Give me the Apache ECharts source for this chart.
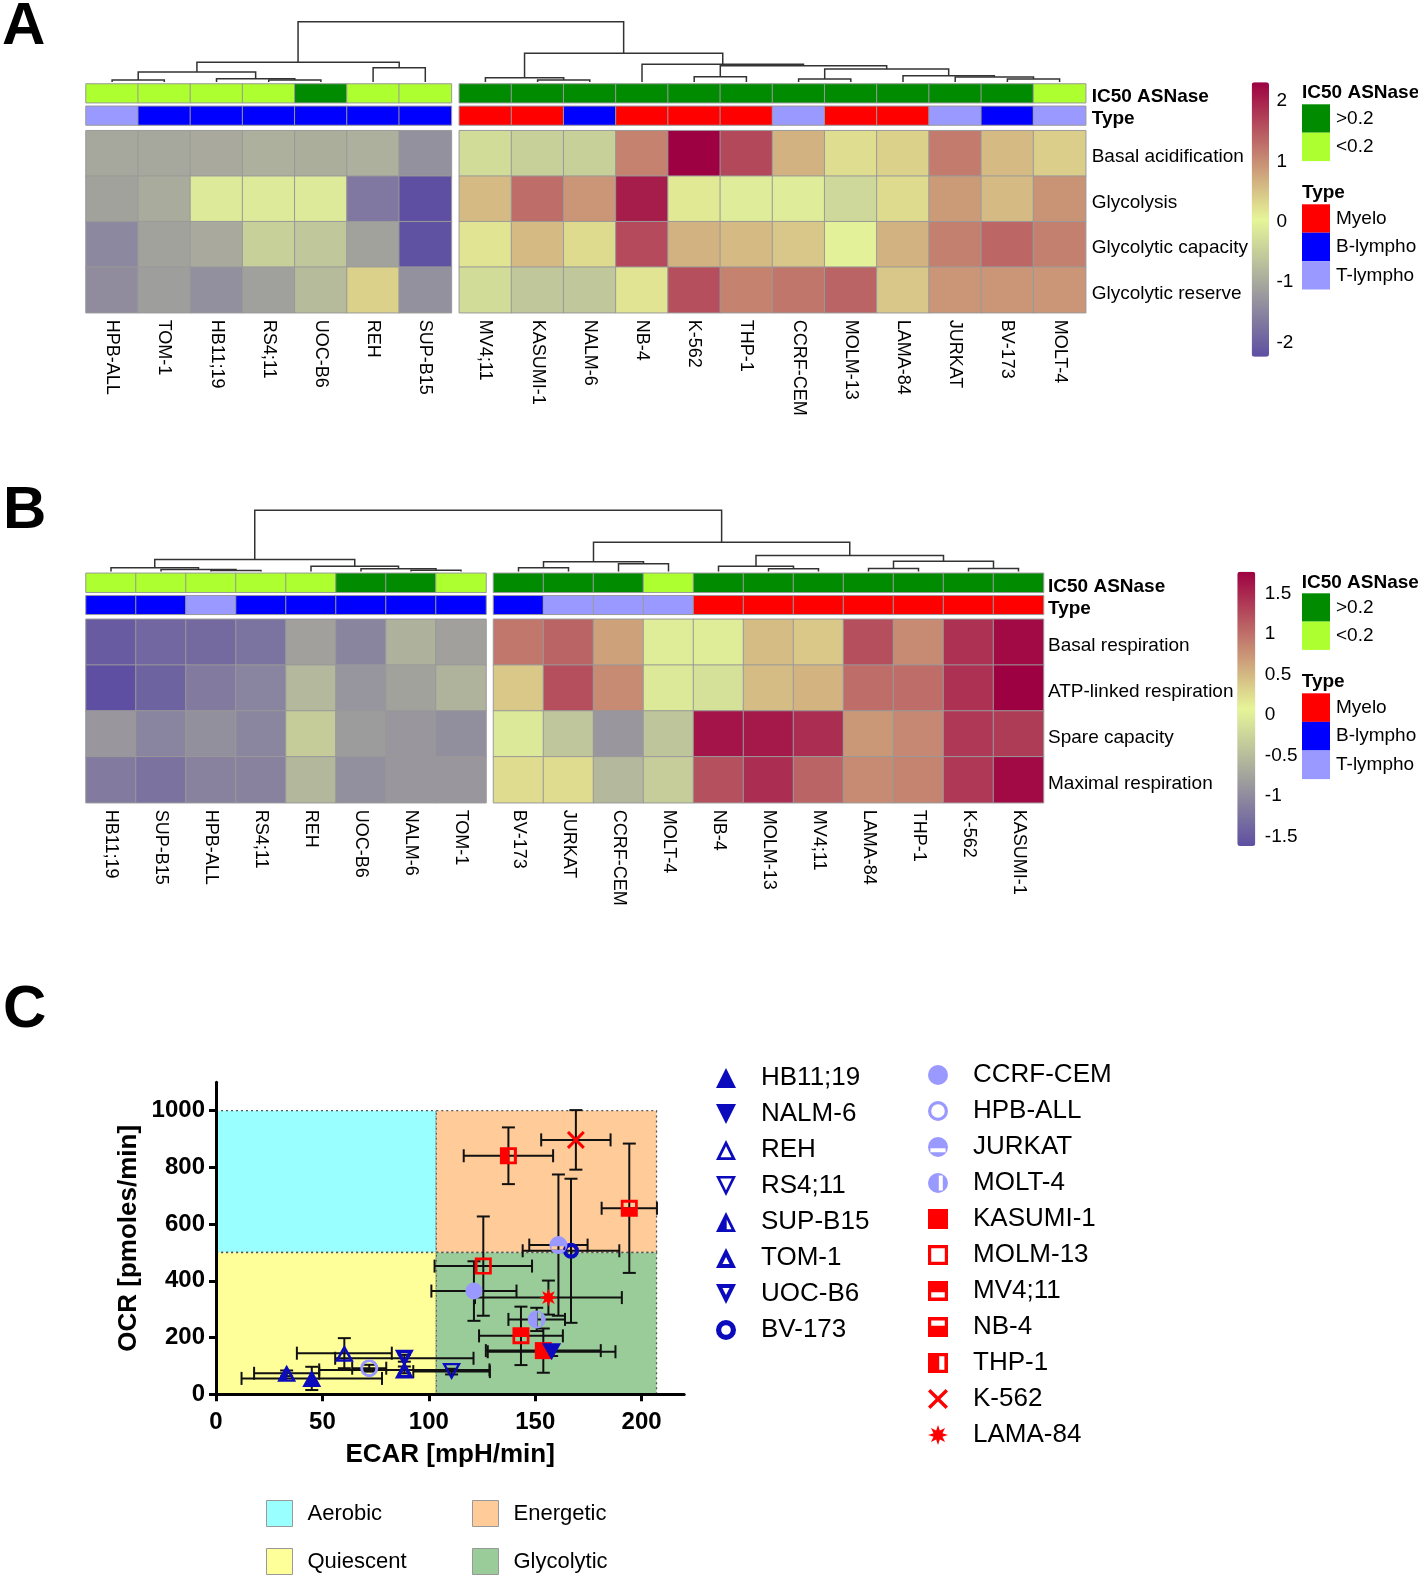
<!DOCTYPE html>
<html><head><meta charset="utf-8">
<script src="https://cdn.jsdelivr.net/npm/echarts@6.0.0/dist/echarts.min.js"></script>
<style>html,body{margin:0;padding:0;background:#fff;}#chart{width:1418px;height:1575px;}</style>
</head><body><div id="chart"></div>
<script>
// ================= DATA =================
// Panel A (glycolysis heatmap), columns in dendrogram order
const colsA = ['HPB-ALL','TOM-1','HB11;19','RS4;11','UOC-B6','REH','SUP-B15','MV4;11','KASUMI-1','NALM-6','NB-4','K-562','THP-1','CCRF-CEM','MOLM-13','LAMA-84','JURKAT','BV-173','MOLT-4'];
const splitA = 7;
const rowsA = ['Basal acidification','Glycolysis','Glycolytic capacity','Glycolytic reserve'];
const ic50A = ['<0.2','<0.2','<0.2','<0.2','>0.2','<0.2','<0.2','>0.2','>0.2','>0.2','>0.2','>0.2','>0.2','>0.2','>0.2','>0.2','>0.2','>0.2','<0.2'];
const typeA = ['T-lympho','B-lympho','B-lympho','B-lympho','B-lympho','B-lympho','B-lympho','Myelo','Myelo','B-lympho','Myelo','Myelo','Myelo','T-lympho','Myelo','Myelo','T-lympho','B-lympho','T-lympho'];
const aBasalAcid   = [-1.02,-1.02,-0.99,-0.91,-0.93,-0.91,-1.33, -0.30,-0.47,-0.47,1.11,2.31,1.65,0.66,0.26,0.37,1.17,0.58,0.40];
const aGlycolysis  = [-1.10,-0.98,-0.11,-0.11,-0.11,-1.67,-2.23, 0.58,1.30,0.92,2.06,0.15,-0.08,-0.08,-0.36,0.29,0.88,0.58,0.95];
const aGlyCapacity = [-1.46,-1.10,-0.99,-0.47,-0.59,-1.10,-2.20, 0.20,0.58,0.29,1.63,0.66,0.58,0.47,-0.02,0.66,1.13,1.36,1.13];
const aGlyReserve  = [-1.40,-1.16,-1.36,-1.13,-0.76,0.37,-1.33, -0.30,-0.59,-0.59,0.20,1.59,1.11,1.22,1.39,0.47,0.92,0.92,0.92];
const scaleA = [-2.235, 2.31];
const ticksA = [-2,-1,0,1,2];
// dendrogram merges: [childA, childB, height]  (L = leaf index, M = merge index)
const mergesA = [
  ['L0','L1',2],['L3','L4',2],['L2','M1',3.3],['M0','M2',10],['L5','L6',14.3],['M3','M4',19.7],
  ['L8','L9',2],['L7','M6',4.3],['L11','L12',5.3],['L13','L14',3],['L17','L18',3],['L16','M10',5],
  ['L15','M11',6.3],['M9','M12',13],['M8','M13',16.3],['L10','M14',17.7],['M7','M15',28.7],['M5','M16',60.3]
];

// Panel B (respiration heatmap)
const colsB = ['HB11;19','SUP-B15','HPB-ALL','RS4;11','REH','UOC-B6','NALM-6','TOM-1','BV-173','JURKAT','CCRF-CEM','MOLT-4','NB-4','MOLM-13','MV4;11','LAMA-84','THP-1','K-562','KASUMI-1'];
const splitB = 8;
const rowsB = ['Basal respiration','ATP-linked respiration','Spare capacity','Maximal respiration'];
const ic50B = ['<0.2','<0.2','<0.2','<0.2','<0.2','>0.2','>0.2','<0.2','>0.2','>0.2','>0.2','<0.2','>0.2','>0.2','>0.2','>0.2','>0.2','>0.2','>0.2'];
const typeB = ['B-lympho','B-lympho','T-lympho','B-lympho','B-lympho','B-lympho','B-lympho','B-lympho','B-lympho','T-lympho','T-lympho','T-lympho','Myelo','Myelo','Myelo','Myelo','Myelo','Myelo','Myelo'];
const bBasalResp = [-1.50,-1.37,-1.34,-1.24,-0.79,-1.07,-0.62,-0.79, 0.95,1.08,0.66,-0.01,-0.01,0.47,0.39,1.23,0.81,1.44,1.71];
const bATPLinked = [-1.62,-1.42,-1.17,-1.08,-0.55,-0.91,-0.77,-0.60, 0.39,1.23,0.81,-0.05,-0.14,0.47,0.53,1.02,1.02,1.44,1.77];
const bSpareCap  = [-0.89,-1.08,-0.96,-1.06,-0.34,-0.83,-0.89,-0.98, -0.05,-0.40,-0.89,-0.42,1.64,1.61,1.46,0.73,0.83,1.39,1.36];
const bMaxResp   = [-1.17,-1.26,-1.10,-1.10,-0.56,-0.97,-0.89,-0.89, 0.25,0.25,-0.55,-0.33,1.22,1.46,1.08,0.81,0.86,1.39,1.71];
const scaleB = [-1.62, 1.77];
const ticksB = [-1.5,-1,-0.5,0,0.5,1,1.5];
const mergesB = [
  ['L2','L3',1],['L1','M0',2],['L0','M1',3.7],['L6','L7',1.3],['L5','M3',2.7],['L4','M4',5.3],['M2','M5',12],
  ['L8','L9',3.7],['L10','L11',7.7],['M7','M8',9.7],['L13','L14',2.7],['L12','M10',5.3],['L15','L16',3],
  ['L17','L18',3],['M12','M13',10.3],['M11','M14',16],['M9','M15',29.3],['M6','M16',61.3]
];

// Panel C (energy map scatter)
const cellLines = ['HB11;19','NALM-6','REH','RS4;11','SUP-B15','TOM-1','UOC-B6','BV-173','CCRF-CEM','HPB-ALL','JURKAT','MOLT-4','KASUMI-1','MOLM-13','MV4;11','NB-4','THP-1','K-562','LAMA-84'];
const ecar    = [45, 157.7, 60.3, 110.7, 33.2, 88.5, 88.5, 166.8, 121.2, 72.0, 160.9, 150.7, 153.8, 125.6, 143.3, 194.2, 137.4, 169.1, 156.2];
const ocr     = [56, 150, 145, 80, 74, 86, 127, 506, 364, 92, 526, 264, 154, 452, 206, 656, 841, 897, 341];
const ecarErr = [33, 30, 22.3, 18, 15.3, 40, 32.5, 22.7, 20, 8, 13.7, 13.3, 27, 22.9, 19.7, 13, 21, 16.3, 34.5];
const ocrErr  = [41, 15, 53, 10, 10, 12, 12, 254, 105, 12, 249, 41, 78, 175, 103, 228, 100, 105, 60];
const xTicksC = [0,50,100,150,200];
const yTicksC = [0,200,400,600,800,1000];
const regionNames = ['Aerobic','Energetic','Quiescent','Glycolytic'];
const regionEcar  = [[0,103.5],[103.5,207],[0,103.5],[103.5,207]];
const regionOcr   = [[500,1000],[500,1000],[0,500],[0,500]];

// ================= STYLE =================
const FONT = '"Liberation Sans", Arial, Helvetica, sans-serif';
const PAL = ['#5e4fa2','#e6f598','#9e0142'];
const IC50_COL = {'>0.2':'#008B00','<0.2':'#ADFF2F'};
const TYPE_COL = {'Myelo':'#FF0000','B-lympho':'#0000FF','T-lympho':'#9999FF'};
const IC50_CODE = {'>0.2':0,'<0.2':1};
const TYPE_CODE = {'Myelo':0,'B-lympho':1,'T-lympho':2};
const REGION_COL = {'Aerobic':'#99FFFF','Energetic':'#FFCC99','Quiescent':'#FFFF99','Glycolytic':'#99CC99'};
const GROUP_COL = {'B-lympho':'#0b0bbd','T-lympho':'#9999ff','Myelo':'#ff0000'};

const TRI_UP = 'M50 0 L100 100 L0 100 Z';
const TRI_DOWN = 'M0 0 L100 0 L50 100 Z';
const CIRC = 'M50 0 A50 50 0 1 1 50 100 A50 50 0 1 1 50 0 Z';
const SQ = 'M0 0 L100 0 L100 100 L0 100 Z';
function ringHole(ri){ return 'M50 '+(50-ri)+' A'+ri+' '+ri+' 0 1 0 50 '+(50+ri)+' A'+ri+' '+ri+' 0 1 0 50 '+(50-ri)+' Z'; }
function starPath(n, rIn){ const p=[]; for(let k=0;k<n*2;k++){ const a=Math.PI*k/n-Math.PI/2; const r=k%2===0?50:rIn; p.push((50+r*Math.cos(a)).toFixed(2)+' '+(50+r*Math.sin(a)).toFixed(2)); } return 'M'+p.join(' L')+' Z'; }
const TRI = [19,17];
const MARKERS = {
  'HB11;19': [TRI_UP, TRI],
  'NALM-6': [TRI_DOWN, TRI],
  'REH': [TRI_UP+' M50 31.3 L22.6 86 L77.4 86 Z', TRI],
  'RS4;11': [TRI_DOWN+' M21 13 L50 70.9 L79 13 Z', TRI],
  'SUP-B15': [TRI_UP+' M53.4 38 L53.4 86 L77.4 86 Z', TRI],
  'TOM-1': [TRI_UP+' M50 44.7 L32.4 80 L67.6 80 Z', TRI],
  'UOC-B6': [TRI_DOWN+' M32.4 20 L50 55.3 L67.6 20 Z', TRI],
  'BV-173': [CIRC+' '+ringHole(24), 16],
  'CCRF-CEM': [CIRC, 17],
  'HPB-ALL': [CIRC+' '+ringHole(34), 18],
  'JURKAT': [CIRC+' M12 56 L12 76 L88 76 L88 56 Z', 18],
  'MOLT-4': [CIRC+' M54 12 L54 88 L74 88 L74 12 Z', 18],
  'KASUMI-1': [SQ, 17],
  'MOLM-13': [SQ+' M16 16 L16 84 L84 84 L84 16 Z', 17],
  'MV4;11': [SQ+' M16 56 L16 82 L84 82 L84 56 Z', 17],
  'NB-4': [SQ+' M16 18 L16 44 L84 44 L84 18 Z', 17],
  'THP-1': [SQ+' M56 16 L56 84 L82 84 L82 16 Z', 17],
  'K-562': ['M0 12 L12 0 L50 38 L88 0 L100 12 L62 50 L100 88 L88 100 L50 62 L12 100 L0 88 L38 50 Z', 18],
  'LAMA-84': [starPath(8, 24), 18]
};
const MARKER_Z = {'NALM-6': 5};

// ================= BUILD =================
const grids=[], xAxes=[], yAxes=[], series=[], visualMaps=[], titles=[], legends=[];
function addGrid(rect, xa, ya){ const gi=grids.length; grids.push(rect); xAxes.push(Object.assign({gridIndex:gi}, xa)); yAxes.push(Object.assign({gridIndex:gi}, ya)); return gi; }
function addTitle(text, left, cy, size, bold, lh){ titles.push({text, left, top: cy-lh/2, padding:0, textStyle:{fontSize:size, fontWeight: bold?'bold':'normal', color:'#000', fontFamily:FONT, lineHeight:lh}}); }
function heatSeries(g, data){ return {type:'heatmap', xAxisIndex:g, yAxisIndex:g, data, silent:true, itemStyle:{borderColor:'#999', borderWidth:1}, emphasis:{disabled:true}}; }
const noAx = {axisLine:{show:false}, axisTick:{show:false}, splitLine:{show:false}};

function buildHeat(P){
  const out={ic50:[], type:[], heat:[]};
  [[0,P.split],[P.split,P.cols.length]].forEach((b,bi)=>{
    const names=P.cols.slice(b[0],b[1]);
    const left = bi===0 ? P.left : P.left + P.split*P.cell + P.gap;
    const width = names.length*P.cell;
    const showRow = bi===1;
    // labels sit slightly below row centre in the reference: top-align with a short line box
    const rowLab = bold => ({show:showRow, fontSize:19, fontWeight: bold?'bold':'normal', color:'#000', fontFamily:FONT,
      margin:P.rowMargin, verticalAlign:'top', lineHeight:P.rowShift*2});
    let g = addGrid({left, top:P.ic50Top, width, height:P.ic50H},
      {type:'category', data:names, show:false},
      Object.assign({type:'category', data:['IC50 ASNase'], position:'right', axisLabel:rowLab(true)}, noAx));
    out.ic50.push(series.length);
    series.push(heatSeries(g, names.map((n,j)=>[j,0,IC50_CODE[P.ic50[b[0]+j]]])));
    g = addGrid({left, top:P.typeTop, width, height:P.typeH},
      {type:'category', data:names, show:false},
      Object.assign({type:'category', data:['Type'], position:'right', axisLabel:rowLab(true)}, noAx));
    out.type.push(series.length);
    series.push(heatSeries(g, names.map((n,j)=>[j,0,TYPE_CODE[P.type[b[0]+j]]])));
    g = addGrid({left, top:P.heatTop, width, height:P.heatH},
      Object.assign({type:'category', data:names, position:'bottom', axisLabel:{interval:0, rotate:-90, fontSize:18, color:'#000', fontFamily:FONT, margin:P.colMargin}}, noAx),
      Object.assign({type:'category', data:P.rows, inverse:true, position:'right', axisLabel:rowLab(false)}, noAx));
    const data=[];
    P.values.forEach((arr,r)=>{ names.forEach((n,j)=>data.push([j,r,arr[b[0]+j]])); });
    out.heat.push(series.length);
    series.push(heatSeries(g, data));
  });
  return out;
}

function dendroRender(params, api){
  const p1=api.coord([api.value(0),api.value(1)]), p2=api.coord([api.value(0),api.value(4)]);
  const p3=api.coord([api.value(2),api.value(4)]), p4=api.coord([api.value(2),api.value(3)]);
  return {type:'polyline', shape:{points:[p1,p2,p3,p4]}, style:{stroke:'#333', lineWidth:1.5, fill:null}};
}
function buildDendro(merges, P, gridTop, gridH){
  const gapU = P.gap/P.cell, total = P.cols.length + gapU;
  const leafX = i => i < P.split ? i+0.5 : i+0.5+gapU;
  const nodes=[], items=[];
  const pos = ref => ref[0]==='L' ? {x:leafX(+ref.slice(1)), h:0} : nodes[+ref.slice(1)];
  merges.forEach(m=>{ const a=pos(m[0]), b=pos(m[1]); items.push([a.x,a.h,b.x,b.h,m[2]]); nodes.push({x:(a.x+b.x)/2, h:m[2]}); });
  const g = addGrid({left:P.left, top:gridTop, width:total*P.cell, height:gridH},
    {type:'value', min:0, max:total, show:false}, {type:'value', min:0, max:gridH, show:false});
  series.push({type:'custom', xAxisIndex:g, yAxisIndex:g, dimensions:['xa','ha','xb','hb','h'], encode:{x:[0,2], y:[1,3,4]}, data:items, renderItem:dendroRender, silent:true, clip:false});
}

function colorbar(left, top, w, h, scale, ticks, seriesIdx, margin){
  visualMaps.push({type:'continuous', min:scale[0], max:scale[1], seriesIndex:seriesIdx, inRange:{color:PAL},
    left, top, itemWidth:w, itemHeight:h, calculable:false, hoverLink:false, padding:0, show:true});
  addGrid({left, top, width:w, height:h}, {type:'value', min:0, max:1, show:false},
    Object.assign({type:'value', min:scale[0], max:scale[1], position:'right',
      axisLabel:{customValues:ticks, fontSize:19, color:'#000', fontFamily:FONT, margin}}, noAx));
}
function annLegend(idx, top, itemH, labels, colors, codes){
  visualMaps.push({type:'piecewise', seriesIndex:idx, dimension:2, orient:'vertical', inverse:true,
    pieces: labels.map(l=>({value:codes[l], label:l, color:colors[l]})),
    left:1302, top, itemWidth:28, itemHeight:itemH, itemGap:0, itemSymbol:'rect', align:'left', textGap:6,
    selectedMode:false, hoverLink:false, padding:0, showLabel:true,
    textStyle:{fontSize:19, color:'#000', fontFamily:FONT}});
}

// ---- Panel A ----
const PA = {cols:colsA, split:splitA, rows:rowsA, values:[aBasalAcid,aGlycolysis,aGlyCapacity,aGlyReserve], ic50:ic50A, type:typeA,
  left:86, cell:52.2, gap:7.9, ic50Top:84, ic50H:18.7, typeTop:106.3, typeH:18.7, heatTop:130.7, heatH:182, colMargin:7, rowMargin:6, rowShift:3.5};
const sA = buildHeat(PA);
buildDendro(mergesA, PA, 20, 62);
// ---- Panel B ----
const PB = {cols:colsB, split:splitB, rows:rowsB, values:[bBasalResp,bATPLinked,bSpareCap,bMaxResp], ic50:ic50B, type:typeB,
  left:86, cell:50, gap:7.5, ic50Top:573.3, ic50H:19, typeTop:595.7, typeH:18.6, heatTop:619.3, heatH:183.4, colMargin:7, rowMargin:4.5, rowShift:4};
const sB = buildHeat(PB);
buildDendro(mergesB, PB, 509.5, 62);

colorbar(1251.7, 82.3, 17.3, 274.4, scaleA, ticksA, sA.heat, 7.5);
colorbar(1237.3, 571.7, 18, 274.3, scaleB, ticksB, sB.heat, 9.5);
annLegend(sA.ic50, 104.3, 28.4, ['>0.2','<0.2'], IC50_COL, IC50_CODE);
annLegend(sA.type, 204.3, 28.4, ['Myelo','B-lympho','T-lympho'], TYPE_COL, TYPE_CODE);
annLegend(sB.ic50, 593.3, 28.3, ['>0.2','<0.2'], IC50_COL, IC50_CODE);
annLegend(sB.type, 693.3, 28.6, ['Myelo','B-lympho','T-lympho'], TYPE_COL, TYPE_CODE);
addTitle('IC50 ASNase', 1302, 92.7, 19, true, 22);
addTitle('Type', 1302, 192.3, 19, true, 22);
addTitle('IC50 ASNase', 1301.7, 582.7, 19, true, 22);
addTitle('Type', 1301.7, 681.7, 19, true, 22);
addTitle('A', 2, 27, 60, true, 60);
addTitle('B', 3, 511, 60, true, 60);
addTitle('C', 3, 1010, 60, true, 60);

// ---- Panel C ----
const axStyle = {lineStyle:{color:'#000', width:3}};
const plain = v => String(v);
const gC = addGrid({left:216, top:1082.3, width:468.2, height:312},
  {type:'value', min:0, max:220, z:6, name:'ECAR [mpH/min]', nameLocation:'middle', nameGap:48,
   nameTextStyle:{fontSize:26, fontWeight:'bold', color:'#000', fontFamily:FONT},
   axisLine:axStyle, axisTick:{customValues:xTicksC, length:7, lineStyle:{color:'#000', width:3}},
   axisLabel:{customValues:xTicksC, formatter:plain, fontSize:24, fontWeight:'bold', color:'#000', fontFamily:FONT, margin:16},
   splitLine:{show:false}},
  {type:'value', min:0, max:1100, z:6, name:'OCR [pmoles/min]', nameLocation:'middle', nameGap:74,
   nameTextStyle:{fontSize:26, fontWeight:'bold', color:'#000', fontFamily:FONT},
   axisLine:axStyle, axisTick:{customValues:yTicksC, length:7, lineStyle:{color:'#000', width:3}},
   axisLabel:{customValues:yTicksC, formatter:plain, fontSize:24, fontWeight:'bold', color:'#000', fontFamily:FONT, margin:11},
   splitLine:{show:false}});
regionNames.forEach((nm,i)=>{
  series.push({type:'custom', name:nm, xAxisIndex:gC, yAxisIndex:gC, z:1, silent:true, clip:false,
    itemStyle:{color:REGION_COL[nm]},
    dimensions:['x0','x1','y0','y1'], encode:{x:[0,1], y:[2,3]},
    data:[[regionEcar[i][0], regionEcar[i][1], regionOcr[i][0], regionOcr[i][1]]],
    renderItem:(params, api)=>{
      const p0=api.coord([api.value(0),api.value(3)]), p1=api.coord([api.value(1),api.value(2)]);
      return {type:'rect', shape:{x:p0[0], y:p0[1], width:p1[0]-p0[0], height:p1[1]-p0[1]},
        style:{fill:api.visual('color'), stroke:'#555', lineWidth:1.3, lineDash:[2,3]}};
    }});
});
series.push({type:'custom', xAxisIndex:gC, yAxisIndex:gC, z:3, silent:true, clip:false,
  dimensions:['x','y','ex','ey'], encode:{x:0, y:1},
  data: cellLines.map((n,i)=>[ecar[i], ocr[i], ecarErr[i], ocrErr[i]]),
  renderItem:(params, api)=>{
    const x=api.value(0), y=api.value(1), ex=api.value(2), ey=api.value(3);
    const l=api.coord([x-ex,y]), r=api.coord([x+ex,y]), t=api.coord([x,y+ey]), b=api.coord([x,y-ey]);
    const c=6.5, st={stroke:'#111', lineWidth:2};
    const ln=(x1,y1,x2,y2)=>({type:'line', shape:{x1,y1,x2,y2}, style:st});
    return {type:'group', children:[
      ln(l[0],l[1],r[0],r[1]), ln(l[0],l[1]-c,l[0],l[1]+c), ln(r[0],r[1]-c,r[0],r[1]+c),
      ln(t[0],t[1],b[0],b[1]), ln(t[0]-c,t[1],t[0]+c,t[1]), ln(b[0]-c,b[1],b[0]+c,b[1])]};
  }});
cellLines.forEach((nm,i)=>{
  const grp = typeA[colsA.indexOf(nm)];
  series.push({type:'scatter', name:nm, xAxisIndex:gC, yAxisIndex:gC, z:MARKER_Z[nm]||4, data:[[ecar[i], ocr[i]]],
    symbol:'path://'+MARKERS[nm][0], symbolSize:MARKERS[nm][1],
    itemStyle:{color:GROUP_COL[grp], opacity:1, borderWidth:0}, emphasis:{disabled:true}});
});
const legText = {fontSize:26, lineHeight:26, color:'#000', fontFamily:FONT};
legends.push({orient:'vertical', left:716, top:1065, itemWidth:60, itemHeight:20, itemGap:10, padding:0, selectedMode:false,
  data:cellLines.slice(0,8), textStyle:legText});
legends.push({orient:'vertical', left:928, top:1062, itemWidth:60, itemHeight:20, itemGap:10, padding:0, selectedMode:false,
  data:cellLines.slice(8), textStyle:legText});
const regLeg = {orient:'vertical', itemWidth:46, itemHeight:26, itemGap:21, padding:0, selectedMode:false,
  icon:'path://'+SQ, itemStyle:{borderColor:'#999', borderWidth:1},
  textStyle:{fontSize:22, lineHeight:26, color:'#000', fontFamily:FONT}};
legends.push(Object.assign({left:266, top:1500, data:[regionNames[0], regionNames[2]]}, regLeg));
legends.push(Object.assign({left:472, top:1500, data:[regionNames[1], regionNames[3]]}, regLeg));

const chart = echarts.init(document.getElementById('chart'), null, {renderer:'canvas'});
chart.setOption({
  animation:false, backgroundColor:'#fff', textStyle:{fontFamily:FONT},
  title:titles, grid:grids, xAxis:xAxes, yAxis:yAxes, visualMap:visualMaps, legend:legends, series
});
</script></body></html>
